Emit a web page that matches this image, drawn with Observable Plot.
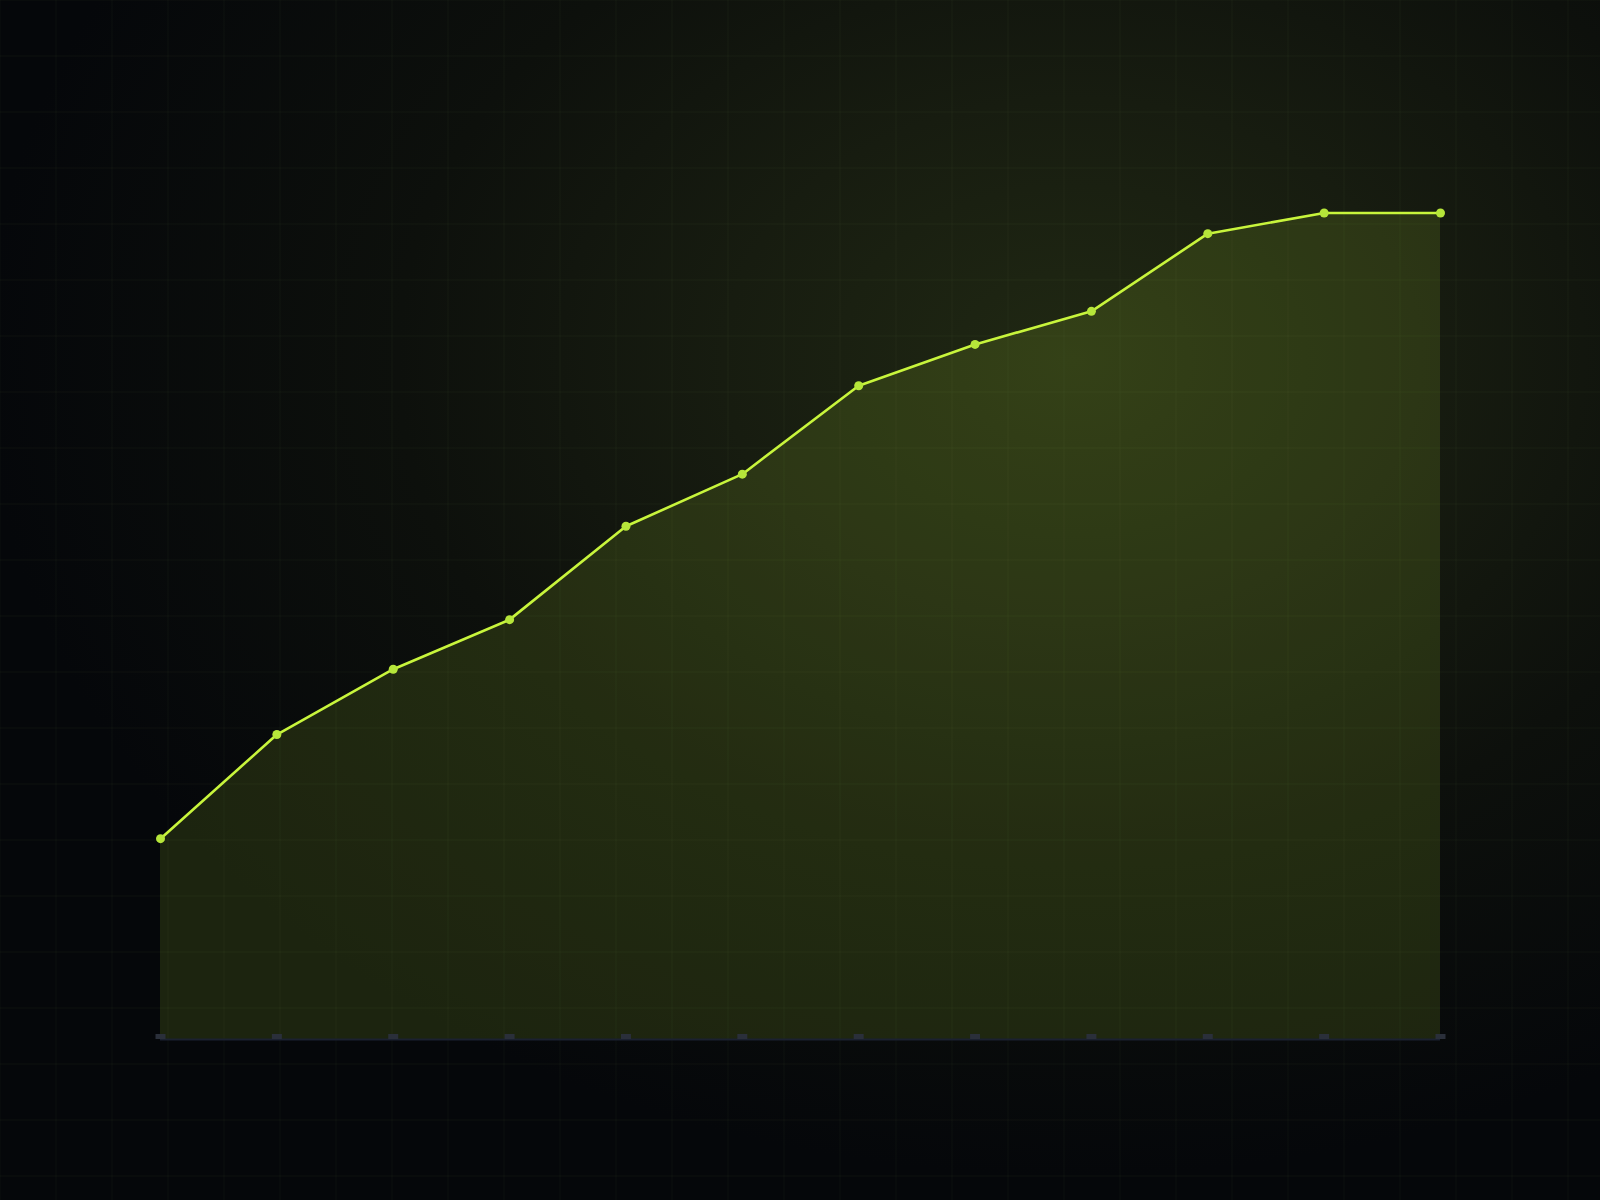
<!DOCTYPE html>
<html>
<head>
<meta charset="utf-8">
<script src="https://cdn.jsdelivr.net/npm/d3@7"></script>
<script src="https://cdn.jsdelivr.net/npm/@observablehq/plot@0.6"></script>
<style>
  html, body { margin: 0; padding: 0; width: 1600px; height: 1200px; overflow: hidden; }
  body {
    background-color: #06080a;
    background-image:
      linear-gradient(to right, rgba(110,140,80,0.065) 1px, transparent 1px),
      linear-gradient(to bottom, rgba(110,140,80,0.065) 1px, transparent 1px),
      radial-gradient(ellipse 68% 68% at 67% 30%, #202813 0%, #171c10 32%, #0d100c 62%, #05070a 100%);
    background-size: 56px 56px, 56px 56px, 100% 100%;
    background-position: -0.5px -0.5px, -0.5px -0.5px, 0 0;
  }
  #chart { position: absolute; left: 0; top: 0; }
</style>
</head>
<body>
<div id="chart"></div>
<script>
const idx = [0, 1, 2, 3, 4, 5, 6, 7, 8, 9, 10, 11];
const values = [24.3, 36.9, 44.8, 50.8, 62.1, 68.4, 79.1, 84.1, 88.1, 97.5, 100, 100];

const data = idx.map((i, k) => ({ i, v: values[k] }));

const lime = "#c8f53c";

const chart = Plot.plot({
  width: 1600,
  height: 1200,
  marginLeft: 160,
  marginRight: 160,
  marginTop: 212.5,
  marginBottom: 161,
  style: { background: "transparent", overflow: "visible" },
  x: { domain: [0, 11], axis: null },
  y: { domain: [0, 100], axis: null },
  marks: [
    Plot.areaY(data, { x: "i", y: "v", fill: lime, fillOpacity: 0.12 }),
    Plot.ruleY([0], { stroke: "#1b2130", strokeWidth: 2 }),
    Plot.axisX({ ticks: idx, tickSize: -5, strokeWidth: 10, stroke: "#2a2f3a", strokeOpacity: 1, tickFormat: () => "", label: null }),
    Plot.lineY(data, { x: "i", y: "v", stroke: lime, strokeWidth: 2.6 }),
    Plot.dot(data, { x: "i", y: "v", r: 4.5, fill: "#b6e63a", stroke: "none" })
  ]
});
document.getElementById("chart").appendChild(chart);
</script>
</body>
</html>
